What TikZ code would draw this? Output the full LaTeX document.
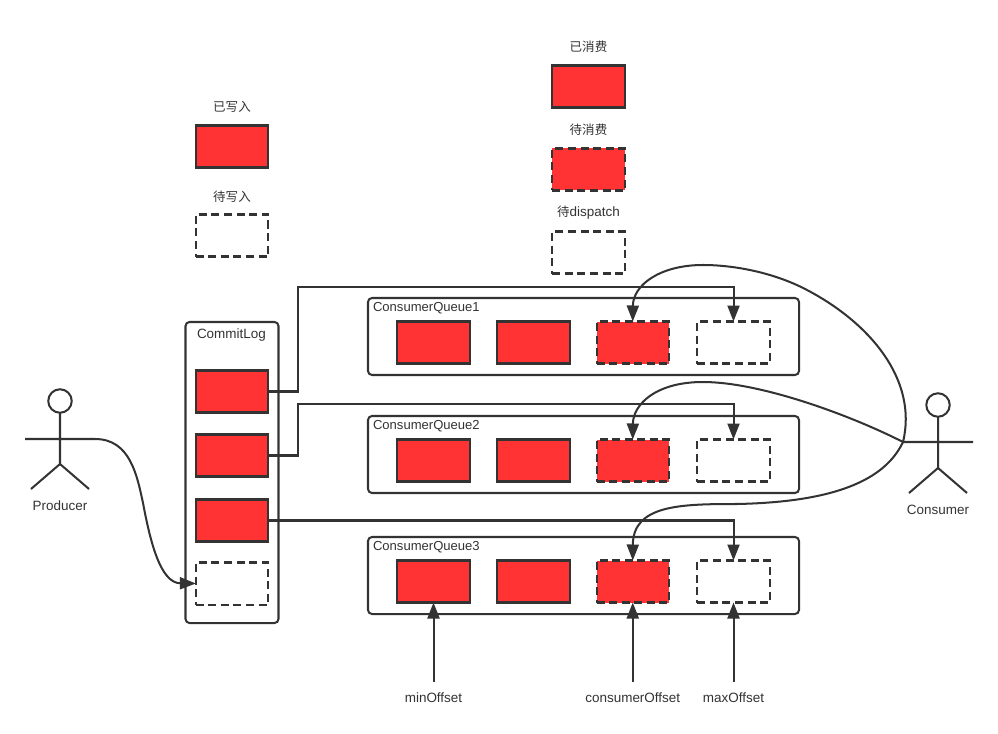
\documentclass[tikz,border=0pt]{standalone}
\usepackage{fontspec}
\setmainfont{Liberation Sans}
\newfontfamily\cjk{Noto Sans CJK SC}
\usetikzlibrary{arrows.meta,positioning}
\definecolor{ink}{HTML}{333333}
\definecolor{fillred}{HTML}{FF3333}
\tikzset{
  x=0.75pt,y=-0.75pt,
  every node/.style={inner sep=0,outer sep=0,text=ink,font=\fontsize{10.1pt}{12pt}\selectfont},
  cjktext/.style={font=\fontsize{9.4pt}{12pt}\selectfont\cjk},
  qtitle/.style={anchor=west,font=\fontsize{9.8pt}{12pt}\selectfont},
  ln/.style={draw=ink,line width=1.51pt},
  solidbox/.style={ln,fill=fillred,minimum width=54.2pt,minimum height=31.5pt},
  pendbox/.style={solidbox,dash pattern=on 6pt off 3.4pt},
  emptybox/.style={pendbox,fill=white},
  frame/.style={ln,rounded corners=3pt,minimum width=323.25pt,minimum height=57.75pt},
  logframe/.style={ln,rounded corners=3pt,minimum width=69.75pt,minimum height=225.75pt},
  conn/.style={ln,-{Triangle[length=12pt,width=9pt]}},
}
\newcommand{\qrow}[3]{%
  \node[frame] (q#1) at (583.5,#2) {};
  \node[solidbox] (q#1a) at (433.5,#3) {};
  \node[solidbox] (q#1b) at (533.5,#3) {};
  \node[pendbox] (q#1c) at (632.75,#3) {};
  \node[emptybox] (q#1d) at (733.5,#3) {};
}
\begin{document}
\begin{tikzpicture}
\useasboundingbox (0,0) rectangle (998,734);
\node[solidbox] (legw) at (232,146.5) {};
\node[emptybox] (legp) at (232,235.5) {};
\node[solidbox] (legc) at (588.5,86.5) {};
\node[pendbox] (legn) at (588.5,169.5) {};
\node[emptybox] (legd) at (588.5,252.5) {};
\node[cjktext] (tw) at (232,106.5) {已写入};
\node[cjktext] (tp) at (232,196.5) {待写入};
\node[cjktext] (tc) at (588.5,46.5) {已消费};
\node[cjktext] (tn) at (588.5,129.5) {待消费};
\node (td) at (588.5,212.5) {{\fontsize{9.4pt}{12pt}\selectfont\cjk 待}dispatch};

\node[logframe] (log) at (232,472.5) {};
\node[anchor=west] (tlog) at (197,335) {CommitLog};
\node[solidbox] (l1) at (232,391.5) {};
\node[solidbox] (l2) at (232,455.5) {};
\node[solidbox] (l3) at (232,520.5) {};
\node[emptybox] (l4) at (232,583.5) {};

\qrow{1}{336.5}{342.5}
\qrow{2}{454.5}{460.5}
\qrow{3}{575.5}{581.5}
\path (q1.north west) ++(5,10) node[qtitle] (t1) {ConsumerQueue1};
\path (q2.north west) ++(5,10) node[qtitle] (t2) {ConsumerQueue2};
\path (q3.north west) ++(5,10) node[qtitle] (t3) {ConsumerQueue3};

% Producer
\node[ln,circle,minimum size=17.6pt] (phead) at (60,401) {};
\coordinate (pb) at (60,464);
\coordinate (pl) at (25,439);
\coordinate (pr) at (95,439);
\coordinate (pll) at (31,489);
\coordinate (plr) at (89,489);
\draw[ln] (phead) -- (pb) (pl) -- (pr) (pll) -- (pb) -- (plr);
\node (tprod) at (60,505.5) {Producer};
% Consumer
\node[ln,circle,minimum size=17.6pt] (chead) at (938,405) {};
\coordinate (cb) at (938,468);
\coordinate (cl) at (903,442);
\coordinate (cr) at (973,442);
\coordinate (cll) at (909,493);
\coordinate (clr) at (967,493);
\draw[ln] (chead) -- (cb) (cl) -- (cr) (cll) -- (cb) -- (clr);
\node (tcons) at (938,509.5) {Consumer};

% connectors
\draw[conn] (pr) .. controls (130,439) and (137,475) .. (143,503) .. controls (150,540) and (160,583) .. (l4.west);
\draw[conn] (l1.east) -- (298,391.5) -- (298,287) -- (733.5,287) -- (q1d.north);
\draw[conn] (l2.east) -- (298,455.5) -- (298,404) -- (733.5,404) -- (q2d.north);
\draw[conn] (l3.east) -- (q3d.north |- l3.east) -- (q3d.north);
\draw[conn] (cl) .. controls (918,380) and (870,323) .. (807,290) .. controls (775,273) and (735,265) .. (703,265) .. controls (660,265) and (633,285) .. (q1c.north);
\draw[conn] (cl) .. controls (850,415) and (760,382) .. (703,382) .. controls (655,382) and (633,405) .. (q2c.north);
\draw[conn] (cl) .. controls (885,480) and (835,502) .. (737,504) .. controls (680,504) and (633,505) .. (q3c.north);

\coordinate (bmin) at (433.5,682);
\coordinate (bcon) at (632.75,682);
\coordinate (bmax) at (733.5,682);
\draw[conn] (bmin) -- (q3a.south);
\draw[conn] (bcon) -- (q3c.south);
\draw[conn] (bmax) -- (q3d.south);
\node (tmin) at (433.5,697.5) {minOffset};
\node (tcon) at (632.75,697.5) {consumerOffset};
\node (tmax) at (733.5,697.5) {maxOffset};
\end{tikzpicture}
\end{document}
